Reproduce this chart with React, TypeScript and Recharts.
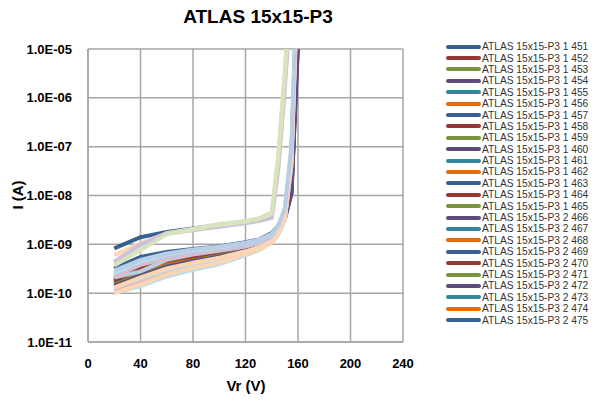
import { LineChart, Line, XAxis, YAxis, CartesianGrid, Legend } from "recharts"

// reverse voltage sample points (V)
const voltages = [20, 40, 60, 80, 100, 120, 130, 140, 145, 150, 155, 160]

// leakage current (A) per device
const d451 = [8.3e-10, 1.4e-9, 1.8e-9, 2.1e-9, 2.5e-9, 2.9e-9, 3.2e-9, 3.8e-9, 5e-8, 2.5e-6, 3e-4, null]
const d452 = [2.0e-10, 3.5e-10, 5.5e-10, 7.0e-10, 8.0e-10, 9.5e-10, 1.1e-9, 1.5e-9, 2.1e-9, 4.0e-9, 1.6e-8, 8e-5]
const d453 = [1.6e-10, 2.6e-10, 3.8e-10, 4.8e-10, 6.0e-10, 8.0e-10, 9.5e-10, 1.3e-9, 1.9e-9, 3.6e-9, 1.4e-8, 2.5e-5]
const d454 = [1.7e-10, 2.8e-10, 4.2e-10, 5.3e-10, 6.5e-10, 8.3e-10, 9.8e-10, 1.35e-9, 1.9e-9, 3.4e-9, 1.1e-8, 1.2e-5]
const d455 = [1.8e-10, 3.0e-10, 4.5e-10, 5.8e-10, 7.0e-10, 8.8e-10, 1.0e-9, 1.4e-9, 2.0e-9, 3.7e-9, 1.3e-8, 3e-5]
const d456 = [1.9e-10, 2.7e-10, 4.0e-10, 5.2e-10, 6.5e-10, 8.5e-10, 1.0e-9, 1.4e-9, 2.0e-9, 3.9e-9, 1.5e-8, 7e-5]
const d457 = [3.2e-10, 5.5e-10, 7.0e-10, 8.0e-10, 9.0e-10, 1.1e-9, 1.25e-9, 1.7e-9, 2.4e-9, 4.8e-9, 2.0e-8, 1e-4]
const d458 = [1.8e-10, 3.1e-10, 4.6e-10, 5.7e-10, 6.9e-10, 8.7e-10, 1.02e-9, 1.4e-9, 2.0e-9, 3.8e-9, 1.2e-8, 2e-5]
const d459 = [1.5e-10, 2.4e-10, 3.6e-10, 4.6e-10, 5.8e-10, 7.8e-10, 9.2e-10, 1.3e-9, 1.85e-9, 3.4e-9, 1.3e-8, 5e-5]
const d460 = [1.4e-10, 2.3e-10, 3.5e-10, 4.5e-10, 5.6e-10, 7.5e-10, 9.0e-10, 1.25e-9, 1.8e-9, 3.3e-9, 1.1e-8, 1.5e-5]
const d461 = [1.0e-10, 1.4e-10, 2.2e-10, 3.0e-10, 3.9e-10, 6.0e-10, 7.5e-10, 1.1e-9, 1.6e-9, 3.2e-9, 4e-8, 4e-4]
const d462 = [6.0e-10, 1.05e-9, 1.7e-9, 2.0e-9, 2.4e-9, 2.8e-9, 3.1e-9, 3.6e-9, 4e-8, 2e-6, 2e-4, null]
const d463 = [1.1e-10, 1.6e-10, 2.5e-10, 3.4e-10, 4.3e-10, 6.2e-10, 7.8e-10, 1.1e-9, 1.6e-9, 3.3e-9, 4.5e-8, 4e-4]
const d464 = [1.2e-10, 1.8e-10, 2.7e-10, 3.6e-10, 4.6e-10, 6.5e-10, 8.0e-10, 1.15e-9, 1.7e-9, 3.6e-9, 6e-8, 6e-4]
const d465 = [4.0e-10, 9.0e-10, 1.7e-9, 2.1e-9, 2.6e-9, 3.0e-9, 3.4e-9, 4.5e-9, 7e-8, 4e-6, 4e-4, null]
const d466 = [4.4e-10, 1.0e-9, 1.65e-9, 1.95e-9, 2.3e-9, 2.7e-9, 3.0e-9, 3.5e-9, 3.5e-8, 1.6e-6, 1.5e-4, null]
const d467 = [1.3e-10, 2.0e-10, 3.0e-10, 4.0e-10, 5.0e-10, 7.0e-10, 8.5e-10, 1.2e-9, 1.75e-9, 3.8e-9, 7e-8, 8e-4]
const d468 = [1.3e-10, 2.1e-10, 3.2e-10, 4.2e-10, 5.3e-10, 7.2e-10, 8.7e-10, 1.2e-9, 1.8e-9, 4.0e-9, 8e-8, 1e-3]
const d469 = [2.1e-10, 2.8e-10, 4.8e-10, 6.2e-10, 7.4e-10, 9.0e-10, 1.05e-9, 1.45e-9, 2.1e-9, 4.6e-9, 6e-8, 6e-4]
const d470 = [2.2e-10, 3.8e-10, 5.2e-10, 6.4e-10, 7.6e-10, 9.3e-10, 1.08e-9, 1.48e-9, 2.2e-9, 4.8e-9, 7e-8, 7e-4]
const d471 = [3.7e-10, 7.6e-10, 1.6e-9, 2.0e-9, 2.5e-9, 2.9e-9, 3.3e-9, 4.2e-9, 6e-8, 3e-6, 3e-4, null]
const d472 = [2.4e-10, 4.0e-10, 5.5e-10, 6.6e-10, 7.8e-10, 9.5e-10, 1.1e-9, 1.5e-9, 2.25e-9, 5.0e-9, 8e-8, 8e-4]
const d473 = [2.6e-10, 4.5e-10, 6.2e-10, 7.5e-10, 8.6e-10, 1.05e-9, 1.2e-9, 1.6e-9, 2.3e-9, 5.2e-9, 9e-8, 9e-4]
const d474 = [1.0e-10, 1.5e-10, 2.4e-10, 3.3e-10, 4.2e-10, 6.3e-10, 7.9e-10, 1.12e-9, 1.65e-9, 3.4e-9, 5e-8, 5e-4]
const d475 = [2.9e-10, 4.8e-10, 6.5e-10, 7.8e-10, 8.9e-10, 1.08e-9, 1.25e-9, 1.65e-9, 2.4e-9, 5.5e-9, 1e-7, 1e-3]

const seriesNames = [
  "ATLAS 15x15-P3 1 451", "ATLAS 15x15-P3 1 452", "ATLAS 15x15-P3 1 453", "ATLAS 15x15-P3 1 454",
  "ATLAS 15x15-P3 1 455", "ATLAS 15x15-P3 1 456", "ATLAS 15x15-P3 1 457", "ATLAS 15x15-P3 1 458",
  "ATLAS 15x15-P3 1 459", "ATLAS 15x15-P3 1 460", "ATLAS 15x15-P3 1 461", "ATLAS 15x15-P3 1 462",
  "ATLAS 15x15-P3 1 463", "ATLAS 15x15-P3 1 464", "ATLAS 15x15-P3 1 465", "ATLAS 15x15-P3 2 466",
  "ATLAS 15x15-P3 2 467", "ATLAS 15x15-P3 2 468", "ATLAS 15x15-P3 2 469", "ATLAS 15x15-P3 2 470",
  "ATLAS 15x15-P3 2 471", "ATLAS 15x15-P3 2 472", "ATLAS 15x15-P3 2 473", "ATLAS 15x15-P3 2 474",
  "ATLAS 15x15-P3 2 475",
]

const seriesValues = [
  d451, d452, d453, d454, d455, d456, d457, d458, d459, d460, d461, d462, d463,
  d464, d465, d466, d467, d468, d469, d470, d471, d472, d473, d474, d475,
]

const xTicks = [0, 40, 80, 120, 160, 200, 240]
const yTicks = [1e-11, 1e-10, 1e-9, 1e-8, 1e-7, 1e-6, 1e-5]

const palette = ["#376092", "#953735", "#77933C", "#604A7B", "#31859C", "#E46C0A"]
const paleTints = ["#B9CDE5", "#E6B9B8", "#D7E4BD", "#CCC1DA", "#B7DEE8", "#FCD5B5"]

const data = voltages.map((v, i) => {
  const row: any = { v }
  seriesNames.forEach((name, k) => {
    row[name] = seriesValues[k][i]
  })
  return row
})

const fmtY = (val: number) => {
  const e = Math.round(Math.log10(val))
  return "1.0E-" + String(-e).padStart(2, "0")
}

const font = "'Liberation Sans', Arial, sans-serif"

const renderLegend = (props: any) => (
  <div style={{ fontFamily: font, fontSize: 10.2, color: "#333" }}>
    {props.payload.map((p: any, i: number) => (
      <div key={p.value} style={{ height: 11.4, display: "flex", alignItems: "center" }}>
        <span style={{ display: "inline-block", flex: "none", width: 35, height: 4, borderRadius: 2, background: palette[i % 6], marginRight: 1 }} />
        <span style={{ whiteSpace: "nowrap" }}>{p.value}</span>
      </div>
    ))}
  </div>
)

const App = () => {
  return (
    <div style={{ position: "absolute", left: 0, top: 0, width: 598, height: 401, fontFamily: font }}>
      <div style={{ position: "absolute", left: 0, width: 516, top: 6, textAlign: "center", fontSize: 19, fontWeight: "bold", color: "#000" }}>
        ATLAS 15x15-P3
      </div>
      <div style={{ position: "absolute", left: 17, top: 195, transform: "translate(-50%, -50%) rotate(-90deg)", fontSize: 15, fontWeight: "bold", whiteSpace: "nowrap" }}>
        I (A)
      </div>
      <div style={{ position: "absolute", left: 246, top: 385, transform: "translate(-50%, -50%)", fontSize: 15, fontWeight: "bold", whiteSpace: "nowrap" }}>
        Vr (V)
      </div>
      <LineChart width={598} height={401} data={data} margin={{ top: 49, right: 195, bottom: 29, left: 0 }}>
        <CartesianGrid stroke="#a6a6a6" strokeWidth={1.5} />
        <XAxis
          dataKey="v"
          type="number"
          domain={[0, 240]}
          ticks={xTicks}
          height={30}
          tickLine={false}
          axisLine={{ stroke: "#a6a6a6", strokeWidth: 1.5 }}
          tickSize={6}
          tickMargin={11}
          tick={{ fontSize: 13, fontWeight: "bold", fill: "#000" }}
        />
        <YAxis
          scale="log"
          domain={[1e-11, 1e-5]}
          ticks={yTicks}
          allowDataOverflow
          width={88}
          tickFormatter={fmtY}
          tickLine={false}
          axisLine={{ stroke: "#a6a6a6", strokeWidth: 1.5 }}
          tickSize={6}
          tickMargin={10}
          tick={{ fontSize: 13, fontWeight: "bold", fill: "#000" }}
        />
        <Legend
          layout="horizontal"
          verticalAlign="middle"
          align="center"
          content={renderLegend}
          wrapperStyle={{ left: 446, top: 41, width: 152 }}
        />
        {seriesNames.map((name, k) => (
          <Line
            key={name}
            dataKey={name}
            name={name}
            stroke={k < 10 ? palette[k % 6] : paleTints[k % 6]}
            strokeWidth={4}
            dot={false}
            isAnimationActive={false}
          />
        ))}
      </LineChart>
    </div>
  )
}

export default App
